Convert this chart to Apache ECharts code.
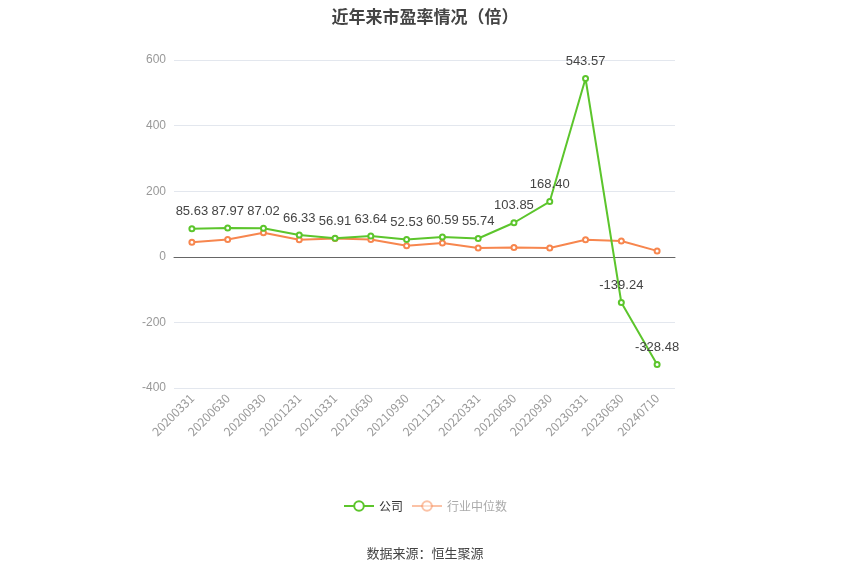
<!DOCTYPE html>
<html lang="zh">
<head>
  <meta charset="UTF-8">
  <title>近年来市盈率情况（倍）</title>
  <script src="https://cdn.jsdelivr.net/npm/echarts@6/dist/echarts.min.js"></script>
  <style>
    html, body { margin: 0; padding: 0; background: #fff; }
    #main { width: 850px; height: 575px; }
  </style>
</head>
<body>
<div id="main"></div>
<script type="text/javascript">
  var dates = ['20200331', '20200630', '20200930', '20201231', '20210331', '20210630', '20210930',
    '20211231', '20220331', '20220630', '20220930', '20230331', '20230630', '20240710'];
  var company = [85.63, 87.97, 87.02, 66.33, 56.91, 63.64, 52.53, 60.59, 55.74, 103.85, 168.40, 543.57, -139.24, -328.48];
  var industry = [44, 53, 73, 52, 56, 53, 34, 42, 27, 28, 27, 52, 48, 18];

  var chart = echarts.init(document.getElementById('main'));

  var option = {
    backgroundColor: '#fff',
    title: {
      text: '近年来市盈率情况（倍）',
      left: 'center',
      top: 3,
      textStyle: { fontSize: 17, fontWeight: 'bold', color: '#444', fontFamily: 'Noto Sans CJK SC' }
    },
    legend: {
      bottom: 58,
      itemWidth: 30,
      itemHeight: 12,
      textStyle: { color: '#333', fontSize: 12, fontFamily: 'Noto Sans CJK SC' },
      data: [
        { name: '公司' },
        { name: '行业中位数', itemStyle: { opacity: 0.5 }, lineStyle: { opacity: 0.5 }, textStyle: { color: '#aaa' } }
      ]
    },
    graphic: [{
      type: 'text',
      left: 'center',
      top: 547,
      style: { text: '数据来源：恒生聚源', fill: '#444', fontSize: 13, fontFamily: 'Noto Sans CJK SC' }
    }],
    grid: { left: 174, right: 175, top: 60, bottom: 187 },
    xAxis: {
      type: 'category',
      data: dates,
      axisLine: { onZero: true, lineStyle: { color: '#666' } },
      axisTick: { alignWithLabel: true, lineStyle: { color: '#666' } },
      axisLabel: { rotate: 45, color: '#999', fontSize: 12, interval: 0, fontFamily: 'Noto Sans CJK SC' }
    },
    yAxis: {
      type: 'value',
      min: -400,
      max: 600,
      interval: 200,
      axisLine: { show: false },
      axisTick: { show: false },
      axisLabel: { color: '#999', fontSize: 12 },
      splitLine: { lineStyle: { color: '#e3e7ee' } }
    },
    series: [
      {
        name: '公司',
        type: 'line',
        data: company,
        symbol: 'emptyCircle',
        symbolSize: 5,
        z: 3,
        itemStyle: { color: '#5cc52c' },
        lineStyle: { width: 2, color: '#5cc52c' },
        label: {
          show: true,
          position: 'top',
          distance: 7,
          color: '#444',
          fontSize: 13,
          formatter: function (p) { return p.value.toFixed(2); }
        }
      },
      {
        name: '行业中位数',
        type: 'line',
        data: industry,
        symbol: 'emptyCircle',
        symbolSize: 5,
        z: 2,
        itemStyle: { color: '#f7864e' },
        lineStyle: { width: 2, color: '#f7864e' }
      }
    ]
  };
  chart.setOption(option);
</script>
</body>
</html>
